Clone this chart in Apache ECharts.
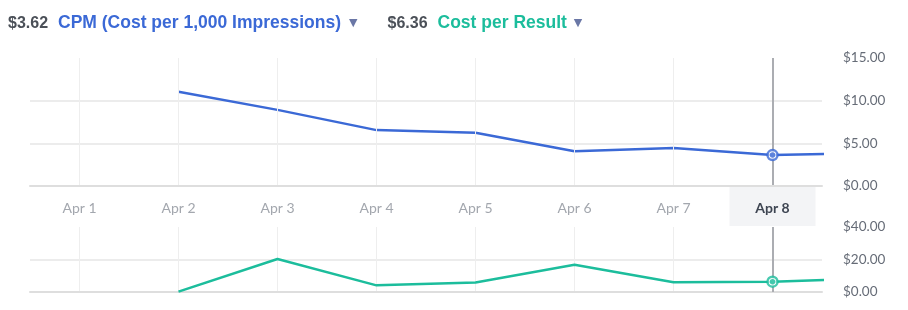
<!DOCTYPE html>
<html>
<head>
<meta charset="utf-8">
<script src="https://cdn.jsdelivr.net/npm/echarts@6/dist/echarts.min.js"></script>
<style>
html,body{margin:0;padding:0;background:#fff;}
#c{width:908px;height:310px;}
</style>
</head>
<body>
<div id="c"></div>
<script>
const categories = ['Apr 1', 'Apr 2', 'Apr 3', 'Apr 4', 'Apr 5', 'Apr 6', 'Apr 7', 'Apr 8'];
const selectedCategory = 'Apr 8';
const cpmValues = [null, 11.05, 8.92, 6.55, 6.24, 4.07, 4.45, 3.62];
const cpmNextValue = 3.85;          // following day, cut off at the right edge
const cprValues = [null, 0.2, 20.3, 4.1, 5.8, 16.8, 6.0, 6.36];
const cprNextValue = 8.3;
const cpmTicks = { max: 15, interval: 5 };
const cprTicks = { max: 40, interval: 20 };
const cpmName = 'CPM (Cost per 1,000 Impressions)';
const cprName = 'Cost per Result';

const BLUE = '#3b69d6';
const TEAL = '#1cbd9c';
const selIdx = categories.indexOf(selectedCategory);

function toPairs(vals, next) {
  const out = vals.map((v, i) => [i + 1, v]).filter(p => p[1] !== null);
  out.push([vals.length + 1, next]);
  return out;
}
const money = v => '$' + Number(v).toFixed(2);

const chart = echarts.init(document.getElementById('c'), null, { renderer: 'canvas' });

const gridL = 30, gridR = 86;
const hdrFont = '"Liberation Sans", Arial, sans-serif';
const axFont = 'Lato, "Open Sans", sans-serif';

const yLabel = {
  show: true, margin: 21, color: '#666c77', fontSize: 13.5, fontFamily: axFont,
  formatter: v => money(v)
};

function catAxis(gridIndex, extra) {
  return Object.assign({
    type: 'category', gridIndex, data: categories, boundaryGap: true,
    axisTick: { show: false },
    axisLine: { show: true, lineStyle: { color: '#dedede', width: 2 } },
    splitLine: { show: true, alignWithLabel: true, lineStyle: { color: '#eeeeee', width: 1 } },
  }, extra);
}
function valXAxis(gridIndex) {
  return { type: 'value', gridIndex, min: 0.5, max: categories.length + 0.5, show: false };
}

const crossLine = {
  silent: true, symbol: 'none', animation: false,
  label: { show: false },
  lineStyle: { color: '#abadb2', width: 2, type: 'solid' },
  data: [{ xAxis: selIdx + 1 }]
};

function marker(xIdx, yIdx, color, value) {
  return [
    {
      type: 'scatter', xAxisIndex: xIdx, yAxisIndex: yIdx, z: 10, symbolSize: 10,
      itemStyle: { color: '#fff', borderColor: color, borderWidth: 2.5 },
      data: [[selIdx + 1, value]]
    },
    {
      type: 'scatter', xAxisIndex: xIdx, yAxisIndex: yIdx, z: 11, symbolSize: 5.5,
      itemStyle: { color: color },
      data: [[selIdx + 1, value]]
    }
  ];
}

const option = {
  animation: false,
  backgroundColor: '#fff',
  title: {
    left: 8, top: 14.5, padding: 0,
    text: '{v|' + money(cpmValues[selIdx]) + '}{n|' + cpmName + '}{t|▼}{v|' + money(cprValues[selIdx]) + '}{m|' + cprName + '}{t2|▼}',
    textStyle: {
      rich: {
        v: { fontFamily: hdrFont, fontWeight: 'bold', fontSize: 16, color: '#4b5058', padding: [0, 10, 0, 0] },
        n: { fontFamily: hdrFont, fontWeight: 'bold', fontSize: 17.5, color: BLUE, padding: [0, 8, 0, 0] },
        m: { fontFamily: hdrFont, fontWeight: 'bold', fontSize: 17.5, color: TEAL, padding: [0, 7, 0, 0] },
        t: { fontFamily: 'DejaVu Sans', fontSize: 11, color: '#6a77a6', padding: [0, 30, 0, 0] },
        t2: { fontFamily: 'DejaVu Sans', fontSize: 11, color: '#6a77a6' }
      }
    }
  },
  grid: [
    { left: gridL, right: gridR, top: 58, height: 128 },
    { left: gridL, right: gridR, top: 227, height: 65 },
    { left: gridL, right: gridR, top: 187, height: 39 }
  ],
  xAxis: [
    catAxis(0, {
      position: 'bottom', z: 5,
      axisLabel: {
        margin: 15, fontSize: 14, fontFamily: axFont, color: '#a3a7ae',
        formatter: (v) => v === selectedCategory ? '{s|' + v + '}' : v,
        rich: { s: { fontSize: 14, fontFamily: axFont, fontWeight: 'bold', color: '#3e4552' } }
      }
    }),
    catAxis(1, { position: 'top', axisLabel: { show: false } }),
    { type: 'category', gridIndex: 2, data: categories, show: false, boundaryGap: true },
    valXAxis(0),
    valXAxis(1)
  ],
  yAxis: [
    {
      type: 'value', gridIndex: 0, position: 'right', min: 0, max: cpmTicks.max, interval: cpmTicks.interval,
      axisLine: { show: false }, axisTick: { show: false }, axisLabel: yLabel,
      splitLine: { show: true, showMaxLine: false, lineStyle: { color: '#ececec', width: 2 } }
    },
    {
      type: 'value', gridIndex: 1, position: 'right', min: 0, max: cprTicks.max, interval: cprTicks.interval,
      axisLine: { show: false }, axisTick: { show: false }, axisLabel: yLabel,
      splitLine: { show: true, showMaxLine: false, lineStyle: { color: '#ececec', width: 2 } }
    },
    { type: 'value', gridIndex: 2, min: 0, max: 1, show: false }
  ],
  series: [
    {
      type: 'bar', xAxisIndex: 2, yAxisIndex: 2, z: 1, silent: true,
      barWidth: 86, itemStyle: { color: '#f3f4f6' },
      data: categories.map(c => c === selectedCategory ? 1 : null)
    },
    {
      type: 'line', xAxisIndex: 3, yAxisIndex: 0, data: toPairs(cpmValues, cpmNextValue),
      symbol: 'none', lineStyle: { color: BLUE, width: 2.5 }, itemStyle: { color: BLUE },
      markLine: crossLine, z: 3
    },
    {
      type: 'line', xAxisIndex: 4, yAxisIndex: 1, data: toPairs(cprValues, cprNextValue),
      symbol: 'none', lineStyle: { color: TEAL, width: 2.5 }, itemStyle: { color: TEAL },
      markLine: crossLine, z: 3
    }
  ].concat(marker(3, 0, BLUE, cpmValues[selIdx]), marker(4, 1, TEAL, cprValues[selIdx]))
};
chart.setOption(option);
</script>
</body>
</html>
